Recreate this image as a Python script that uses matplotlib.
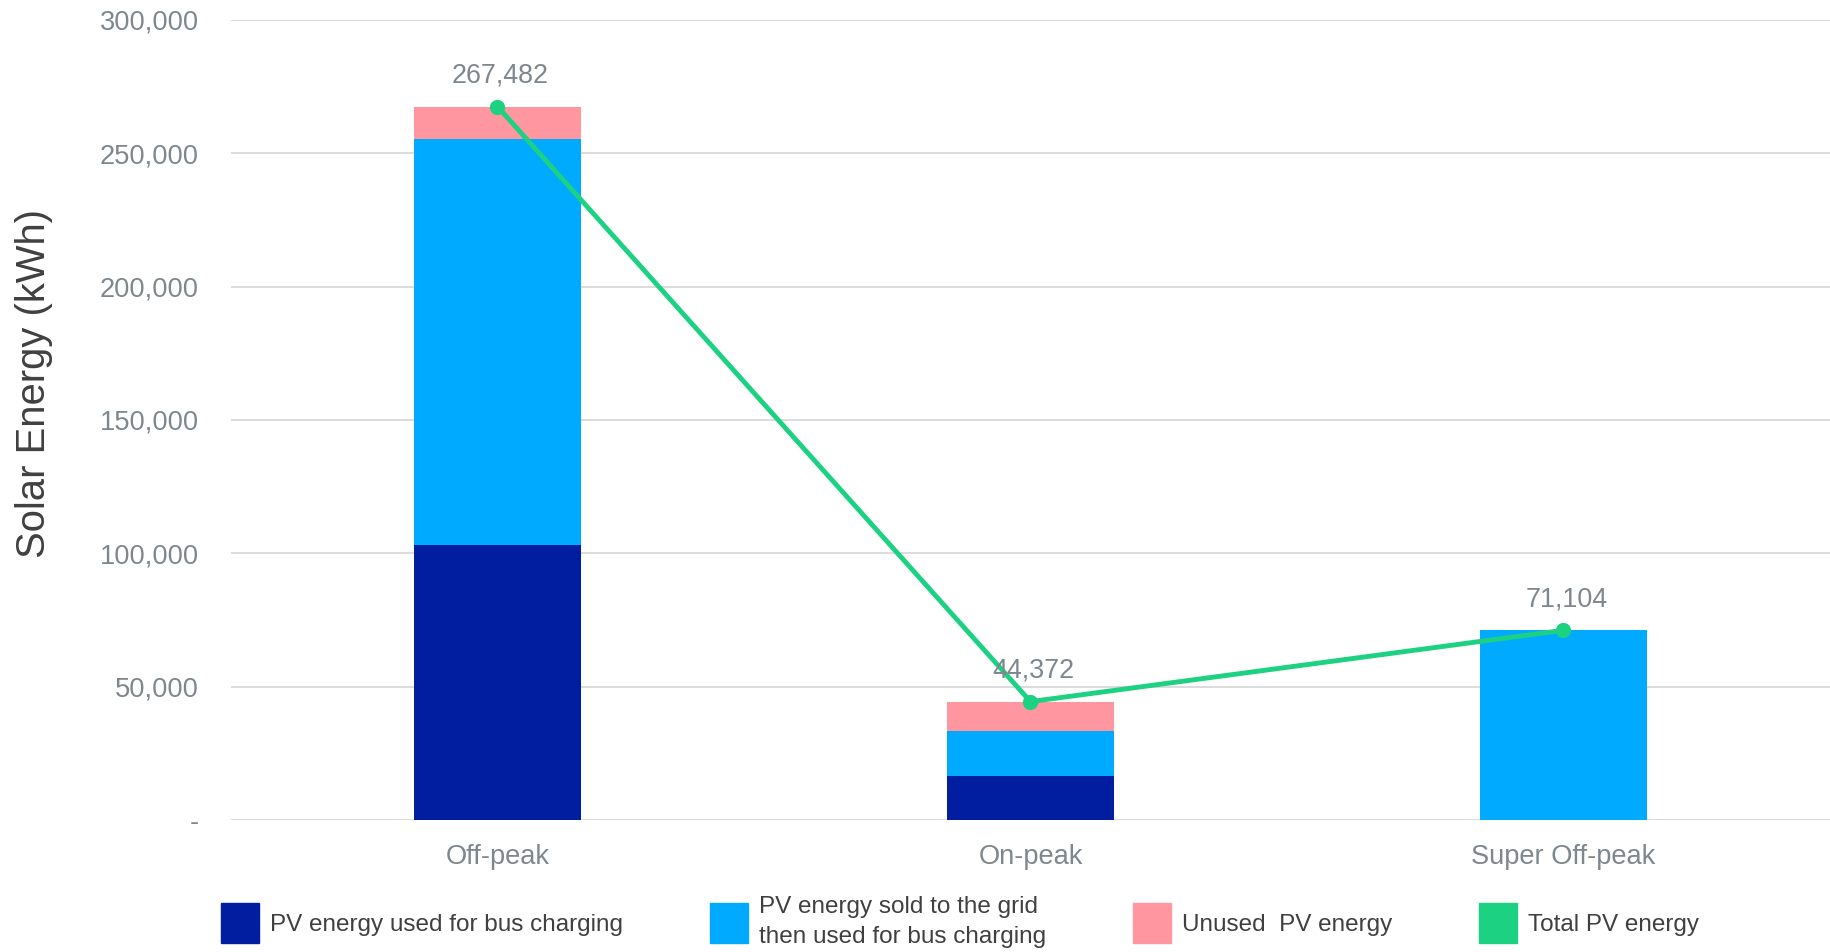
import matplotlib
matplotlib.use("Agg")
import matplotlib.pyplot as plt
from matplotlib.patches import Patch
from matplotlib.ticker import FuncFormatter

plt.rcParams['font.family'] = ['Liberation Sans', 'DejaVu Sans']

# Solar energy by TOU period (kWh)
periods = ["Off-peak", "On-peak", "Super Off-peak"]
used_for_bus = [103000, 16500, 0]
sold_then_used = [152400, 17000, 71104]
unused = [12082, 10872, 0]
total_pv = [267482, 44372, 71104]

series_labels = [
    "PV energy used for bus charging",
    "PV energy sold to the grid\nthen used for bus charging",
    "Unused  PV energy",
    "Total PV energy",
]

c_dark = "#001E9F"
c_light = "#00AAFF"
c_pink = "#FF96A0"
c_green = "#1DD183"
c_tick = "#7F878E"

fig = plt.figure(figsize=(18.3, 9.52), dpi=100)
ax = fig.add_axes([0.1262, 0.1387, 0.8738, 0.8405])

x = list(range(len(periods)))
w = 0.313
bottom2 = used_for_bus
bottom3 = [a + b for a, b in zip(used_for_bus, sold_then_used)]

ax.bar(x, used_for_bus, w, color=c_dark, zorder=2)
ax.bar(x, sold_then_used, w, bottom=bottom2, color=c_light, zorder=2)
ax.bar(x, unused, w, bottom=bottom3, color=c_pink, zorder=2)

ax.plot(x, total_pv, color=c_green, lw=3.5, marker="o", ms=10, zorder=3)
for xi, v in zip(x, total_pv):
    ax.annotate(f"{v:,}", (xi, v), xytext=(2, 13), textcoords="offset points",
                ha="center", va="bottom", fontsize=19.4, color=c_tick)

ax.set_xlim(-0.5, 2.5)
ax.set_ylim(0, 300000)
ax.set_yticks(range(0, 300001, 50000))
ax.yaxis.set_major_formatter(FuncFormatter(lambda v, p: "-" if v == 0 else f"{int(v):,}"))
ax.set_xticks(x)
ax.set_xticklabels(periods)

ax.grid(axis="y", color="#D9D9D9", lw=1.3, zorder=0)
for s in ax.spines.values():
    s.set_visible(False)
ax.tick_params(length=0, labelsize=19.6, colors=c_tick)
ax.tick_params(axis="y", pad=23)
ax.tick_params(axis="x", pad=17.5)

ax.set_ylabel("Solar Energy (kWh)", fontsize=28.8, color="#404040")
ax.yaxis.set_label_coords(-0.111, 0.545)

handles = [
    Patch(color=c_dark),
    Patch(color=c_light),
    Patch(color=c_pink),
    Patch(color=c_green),
]
leg = fig.legend(handles, series_labels, loc="center", bbox_to_anchor=(0.5246, 0.0315),
                 ncol=4, frameon=False, fontsize=17.5, labelcolor="#404040",
                 handlelength=1.55, handleheight=2.2, handletextpad=0.47,
                 columnspacing=3.57)
for t in leg.get_texts():
    t.set_linespacing(1.45)

fig.savefig("out.png", dpi=100)
